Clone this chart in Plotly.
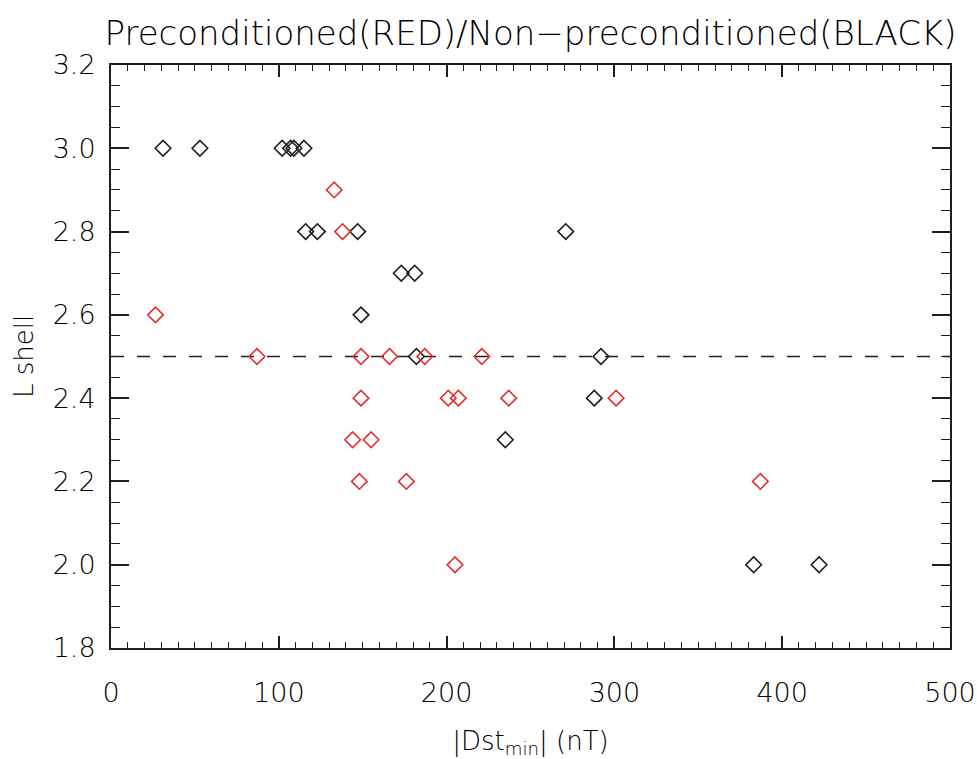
import plotly.graph_objects as go

# Non-preconditioned events (black)
black_dst = [31, 53, 102, 107, 109, 115, 116, 123, 147, 271, 173, 181, 149, 182, 292, 288, 235, 383, 422]
black_L = [3.0, 3.0, 3.0, 3.0, 3.0, 3.0, 2.8, 2.8, 2.8, 2.8, 2.7, 2.7, 2.6, 2.5, 2.5, 2.4, 2.3, 2.0, 2.0]

# Preconditioned events (red)
red_dst = [26.5, 87, 133, 138, 149, 166, 187, 221, 149, 201, 207, 237, 301, 144, 155, 148, 176, 387, 205]
red_L = [2.6, 2.5, 2.9, 2.8, 2.5, 2.5, 2.5, 2.5, 2.4, 2.4, 2.4, 2.4, 2.4, 2.3, 2.3, 2.2, 2.2, 2.2, 2.0]

x_ticks = [0, 100, 200, 300, 400, 500]
y_ticks = [1.8, 2.0, 2.2, 2.4, 2.6, 2.8, 3.0, 3.2]
L_threshold = 2.5

FONT = "DejaVu Sans"
INK = "#1e1e1e"
TXT = "#000000"
RED = "#e0302e"

fig = go.Figure()

fig.add_trace(go.Scatter(
    x=black_dst, y=black_L, mode="markers",
    marker=dict(symbol="diamond-open", size=12, color=INK, line=dict(width=1.6, color=INK)),
    showlegend=False,
))
fig.add_trace(go.Scatter(
    x=red_dst, y=red_L, mode="markers",
    marker=dict(symbol="diamond-open", size=12, color=RED, line=dict(width=1.6, color=RED)),
    showlegend=False,
))

fig.add_shape(
    type="line", xref="x", yref="y", x0=0, x1=500, y0=L_threshold, y1=L_threshold,
    line=dict(color=INK, width=1.6, dash="13px,13px"), layer="below",
)

fig.update_layout(
    width=977, height=759,
    margin=dict(l=111, r=27, t=65, b=111),
    paper_bgcolor="white", plot_bgcolor="white",
    font=dict(family=FONT, color=TXT, size=26),
    title=dict(
        text="Preconditioned(RED)/Non\u2212preconditioned(BLACK)",
        x=0.5, xref="paper", xanchor="center", y=0.957, yanchor="middle",
        font=dict(family=FONT, size=34, color=TXT, weight=300),
    ),
)

fig.update_xaxes(
    range=[0, 500], tickvals=x_ticks, ticktext=[str(v) for v in x_ticks],
    ticks="inside", ticklen=12, tickwidth=1.6, tickcolor=INK,
    minor=dict(dtick=10, ticks="inside", ticklen=6, tickwidth=1.4, tickcolor=INK),
    showline=True, linewidth=2, linecolor=INK, mirror="allticks",
    showgrid=False, zeroline=False, ticklabelstandoff=20, automargin=False,
    tickfont=dict(size=27, family=FONT, color=TXT, weight=300),
    title=dict(text="|Dst<sub>min</sub>| (nT)", standoff=25,
               font=dict(size=26, family=FONT, color=TXT, weight=300)),
)
fig.update_yaxes(
    range=[1.8, 3.2], tickvals=y_ticks, ticktext=[f"{v:.1f}" for v in y_ticks],
    ticks="inside", ticklen=18, tickwidth=1.6, tickcolor=INK,
    minor=dict(dtick=0.05, tick0=1.8, ticks="inside", ticklen=9, tickwidth=1.4, tickcolor=INK),
    showline=True, linewidth=2, linecolor=INK, mirror="allticks",
    showgrid=False, zeroline=False, ticklabelstandoff=8, automargin=False,
    tickfont=dict(size=27, family=FONT, color=TXT, weight=300),
    title=dict(text="L shell", standoff=12,
               font=dict(size=26, family=FONT, color=TXT, weight=300)),
)

fig.write_html("out.html")
